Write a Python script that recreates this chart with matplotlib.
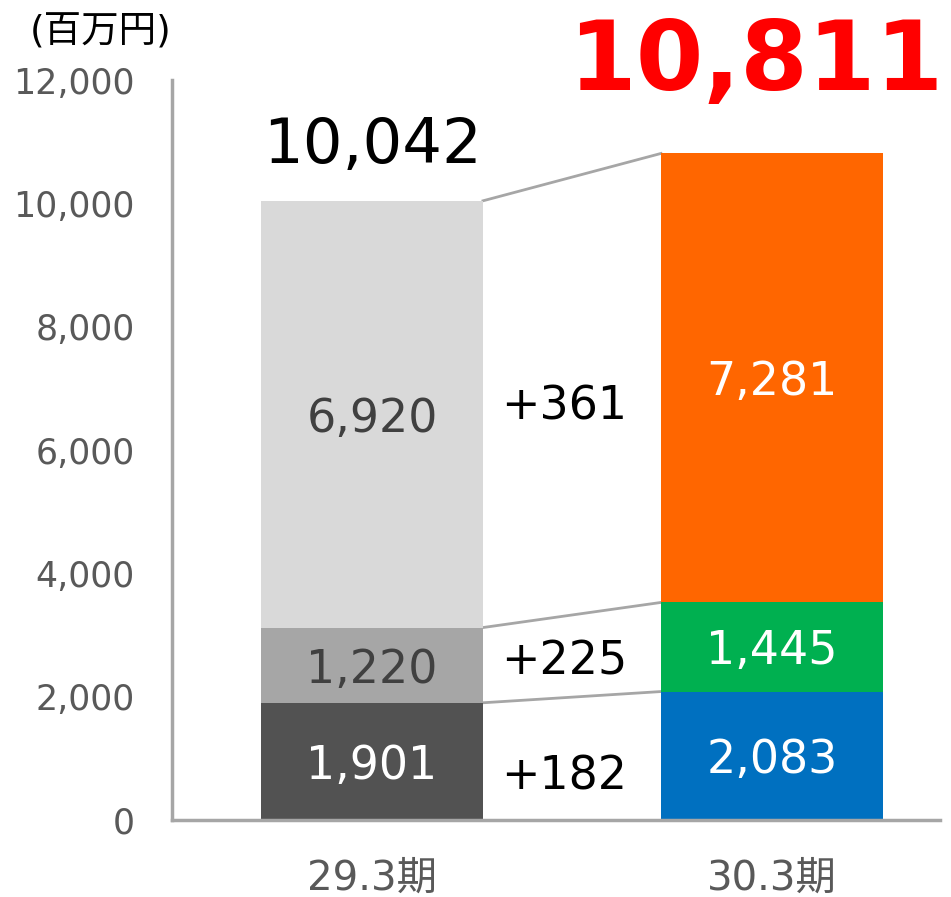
import matplotlib
matplotlib.use("Agg")
import matplotlib.pyplot as plt

plt.rcParams['font.family'] = ['DejaVu Sans', 'Noto Sans CJK JP']

# data
periods = ['29.3期', '30.3期']
prev_vals = [1901, 1220, 6920]
curr_vals = [2083, 1445, 7281]
diffs = ['+182', '+225', '+361']
diff_y = [780, 2640, 6780]
totals = ['10,042', '10,811']
yticks = [0, 2000, 4000, 6000, 8000, 10000, 12000]

prev_colors = ['#525252', '#A6A6A6', '#D9D9D9']
prev_text = ['white', '#404040', '#404040']
curr_colors = ['#0070C0', '#00B050', '#FF6600']
axis_gray = '#A6A6A6'

fig = plt.figure(figsize=(9.51, 8.97), dpi=100)
ax = fig.add_axes([172/951, 77/897, 768/951, 740/897])

w = 0.555
x0, x1 = 0, 1

def stack(x, vals, colors, tcolors):
    bottom = 0
    tops = [0]
    for v, c, tc in zip(vals, colors, tcolors):
        ax.bar(x, v, w, bottom=bottom, color=c, zorder=2)
        ax.text(x, bottom + v / 2, f'{v:,}', ha='center', va='center_baseline',
                fontsize=33, color=tc, zorder=3)
        bottom += v
        tops.append(bottom)
    return tops

tops0 = stack(x0, prev_vals, prev_colors, prev_text)
tops1 = stack(x1, curr_vals, curr_colors, ['white'] * 3)

# connector lines between segment boundaries
for a, b in zip(tops0[1:], tops1[1:]):
    ax.plot([x0 + w / 2, x1 - w / 2], [a, b], color=axis_gray, lw=2, zorder=1)

for d, y in zip(diffs, diff_y):
    ax.text(0.48, y, d, ha='center', va='center_baseline', fontsize=33, color='black')

ax.text(x0, 10650, totals[0], ha='center', va='baseline', fontsize=45, color='black')
ax.text(0.96, 11840, totals[1], ha='center', va='baseline', fontsize=70,
        color='#FF0000', fontweight='bold')

ax.set_xlim(-0.5, 1.42)
ax.set_ylim(0, 12000)
ax.set_yticks(yticks)
ax.set_yticklabels([f'{t:,}' for t in yticks])
ax.set_xticks([x0, x1])
ax.set_xticklabels(periods)
ax.tick_params(axis='y', length=0, pad=27, labelsize=25, labelcolor='#595959')
ax.tick_params(axis='x', length=0, pad=28, labelsize=29, labelcolor='#595959')
for s in ['top', 'right']:
    ax.spines[s].set_visible(False)
for s in ['left', 'bottom']:
    ax.spines[s].set_color(axis_gray)
    ax.spines[s].set_linewidth(2.5)

fig.text(30/951, 1 - 33/897, '(百万円)', ha='left', va='center', fontsize=27, color='black')

fig.savefig('out.png', dpi=100)
